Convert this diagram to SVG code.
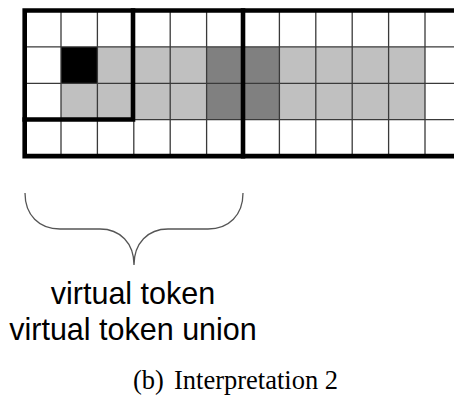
<svg xmlns="http://www.w3.org/2000/svg" width="454" height="396" viewBox="0 0 454 396">
  <style>
    .light { fill: #c0c0c0; }
    .dark { fill: #808080; }
    .black { fill: #000000; }
    .thin { stroke: #3a3a3a; stroke-width: 1.3; fill: none; }
    .thick { stroke: #000000; stroke-width: 4.6; fill: none; stroke-linecap: square; }
    .brace { stroke: #555555; stroke-width: 1.3; fill: none; }
    .label { font-family: "Liberation Sans", Arial, sans-serif; font-size: 30.5px; fill: #000; text-anchor: middle; }
    .caption { font-family: "Liberation Serif", "Times New Roman", serif; font-size: 26.5px; fill: #000; }
  </style>
  <rect width="454" height="396" fill="#ffffff"/>

  <!-- grid: columns every 36.4 from x=24.7, rows every 36.4 from y=10.5 -->
  <g id="grid">
    <g id="cells">
      <!-- row 1 -->
      <rect class="black" x="61" y="46.9" width="36.4" height="36.4"/>
      <rect class="light" x="97.4" y="46.9" width="109.2" height="36.4"/>
      <rect class="dark" x="206.6" y="46.9" width="72.8" height="36.4"/>
      <rect class="light" x="279.4" y="46.9" width="145.6" height="36.4"/>
      <!-- row 2 -->
      <rect class="light" x="61" y="83.3" width="145.6" height="36.4"/>
      <rect class="dark" x="206.6" y="83.3" width="72.8" height="36.4"/>
      <rect class="light" x="279.4" y="83.3" width="145.6" height="36.4"/>
    </g>
    <g id="thin-lines" class="thin">
      <path d="M24.7,46.9H454 M24.7,83.3H454 M24.7,119.7H454"/>
      <path d="M61,10.5V156.1 M97.4,10.5V156.1 M133.8,10.5V156.1 M170.2,10.5V156.1 M206.6,10.5V156.1 M279.4,10.5V156.1 M315.8,10.5V156.1 M352.2,10.5V156.1 M388.6,10.5V156.1 M425,10.5V156.1"/>
    </g>
    <g id="borders" class="thick">
      <path d="M458,10.5H24.7V156.1H458"/>
      <path d="M243,10.5V156.1"/>
      <path d="M24.7,119.5H133V10.5"/>
    </g>
  </g>

  <g id="connectors">
    <path id="brace" class="brace" d="M25,193 C25,215 39,229 60,229 L100,229 C120,229 134,243 134,265 C134,243 148,229 168,229 L208,229 C229,229 243,215 243,193"/>
  </g>

  <g id="labels">
    <text class="label" x="133" y="304">virtual token</text>
    <text class="label" x="133" y="340">virtual token union</text>
  </g>

  <text class="caption" y="389"><tspan x="133">(b)</tspan><tspan x="174">Interpretation 2</tspan></text>
</svg>
